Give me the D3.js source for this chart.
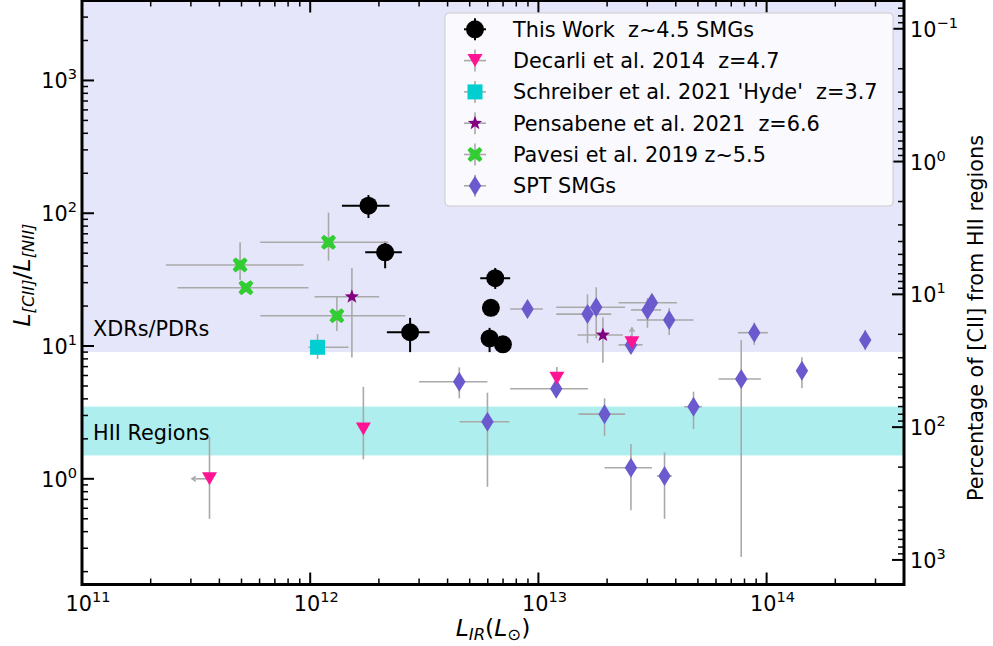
<!DOCTYPE html>
<html>
<head>
<meta charset="utf-8">
<script src="https://cdn.jsdelivr.net/npm/d3@7"></script>
<style>
  body { margin: 0; background: #fff; }
  text { font-family: "DejaVu Sans", sans-serif; white-space: pre; }
</style>
</head>
<body>
<svg id="chart" width="993" height="646"></svg>
<script>
// Each row: [L_IR, L_IR low, L_IR high, ratio, ratio low, ratio high]; null = no error bar
const thisWork = [
  [1.80e12, 1.377e12, 2.226e12, 114, 137, 92],
  [2.13e12, 1.742e12, 2.522e12, 50.8, 61, 38.5],
  [6.47e12, 5.56e12, 7.52e12, 32.4, 38.7, 26.9],
  [6.19e12, null, null, 19.4, null, null],
  [6.11e12, null, null, 11.4, 13.7, 9.0],
  [6.99e12, null, null, 10.3, null, null],
  [2.74e12, 2.168e12, 3.333e12, 12.7, 16.3, 9.0]
];
const decarli = [
  [3.62e11, 3.03e11, null, 1.0, 2.07, 0.50],
  [1.71e12, null, null, 2.37, 4.93, 1.40],
  [1.205e13, null, null, 5.71, 6.95, null],
  [2.57e13, null, null, 10.6, 13.7, null]
];
// Decarli limits: index of upper limit on L_IR, index of lower limit on ratio
const decarliXUpperLimit = [0];
const decarliYLowerLimit = [3];
const schreiber = [
  [1.077e12, 9.83e11, 1.472e12, 9.78, 12.3, 7.98]
];
const pensabene = [
  [1.523e12, 1.044e12, 2.006e12, 23.5, 38.7, 8.2],
  [1.917e13, 1.484e13, 2.346e13, 12.1, 16.5, 7.48]
];
const pavesi = [
  [4.93e11, 2.33e11, 9.35e11, 40.8, 60.5, 31.4],
  [5.23e11, 2.62e11, 9.83e11, 27.5, null, null],
  [1.203e12, 6.04e11, 2.203e12, 60.4, 101, 44],
  [1.309e12, 6.04e11, 2.608e12, 16.9, 23.5, 13.0]
];
const sptSMGs = [
  [4.50e12, 3.00e12, 5.98e12, 5.38, 6.91, 4.04],
  [5.98e12, 4.51e12, 7.47e12, 2.69, 4.45, 0.87],
  [8.96e12, 7.52e12, 1.046e13, 19.0, 20.5, 17.6],
  [1.641e13, 1.197e13, 2.085e13, 17.4, 24.5, 10.5],
  [1.792e13, 1.197e13, 2.40e13, 19.6, 27.7, 11.4],
  [3.006e13, 2.544e13, 3.452e13, 18.7, 23.0, 13.7],
  [3.144e13, 2.244e13, 4.045e13, 21.2, 23.0, 19.5],
  [3.743e13, 2.702e13, 4.783e13, 15.7, 19.3, 12.1],
  [2.544e13, 2.244e13, 2.859e13, 10.2, 10.8, 9.6],
  [8.83e13, 7.49e13, 1.013e14, 12.6, 15.0, 10.2],
  [2.705e14, null, null, 11.1, 13.2, 9.33],
  [1.197e13, 7.52e12, 1.648e13, 4.77, 5.3, 4.3],
  [1.949e13, 1.499e13, 2.40e13, 3.07, 4.04, 2.11],
  [4.783e13, 4.355e13, 5.205e13, 3.49, 4.53, 2.37],
  [7.74e13, 6.155e13, 9.44e13, 5.64, 11.1, 0.258],
  [1.428e14, null, null, 6.51, 8.22, 4.80],
  [2.544e13, 1.949e13, 3.144e13, 1.21, 1.83, 0.58],
  [3.57e13, 3.306e13, 3.846e13, 1.05, 1.58, 0.50]
];
const legendLabels = [
  "This Work  z~4.5 SMGs",
  "Decarli et al. 2014  z=4.7",
  "Schreiber et al. 2021 'Hyde'  z=3.7",
  "Pensabene et al. 2021  z=6.6",
  "Pavesi et al. 2019 z~5.5",
  "SPT SMGs"
];
const xDomain = [1e11, 4e14];
const yDomain = [0.16, 4000];
const pdrRegion = [9, 4000];      // XDR/PDR band in [CII]/[NII]
const hiiRegion = [1.5, 3.5];     // HII region band
const hiiRatio = 2.45;            // ratio of pure ionized gas: 100% [CII] from HII

const svg = d3.select("#chart");
const L = 82, R = 904, T = 0.5, B = 584.5;
const x = d3.scaleLog().domain(xDomain).range([L, R]);
const y = d3.scaleLog().domain(yDomain).range([B, T]);
const yPct = d3.scaleLog()
  .domain([100 * hiiRatio / yDomain[0], 100 * hiiRatio / yDomain[1]])
  .range([B, T]);

// shaded regions
svg.append("rect").attr("x", L).attr("width", R - L)
  .attr("y", y(pdrRegion[1])).attr("height", y(pdrRegion[0]) - y(pdrRegion[1]))
  .attr("fill", "#e6e6fa");
svg.append("rect").attr("x", L).attr("width", R - L)
  .attr("y", y(hiiRegion[1])).attr("height", y(hiiRegion[0]) - y(hiiRegion[1]))
  .attr("fill", "#afeeee");

const fs = 20.8;
const fsTitle = 23.5;
svg.append("text").attr("x", 93).attr("y", 336).attr("font-size", fs).text("XDRs/PDRs");
svg.append("text").attr("x", 93).attr("y", 440).attr("font-size", fs).text("HII Regions");

// marker shapes
function star(ro, ri) {
  let p = "";
  for (let i = 0; i < 10; i++) {
    const r = i % 2 ? ri : ro, a = -Math.PI / 2 + i * Math.PI / 5;
    p += (i ? "L" : "M") + (r * Math.cos(a)).toFixed(2) + "," + (r * Math.sin(a)).toFixed(2);
  }
  return p + "Z";
}
function thickX(h, t) {
  const pts = [[-h + t, -h], [0, -t * 1.414], [h - t, -h], [h, -h + t], [t * 1.414, 0], [h, h - t],
               [h - t, h], [0, t * 1.414], [-h + t, h], [-h, h - t], [-t * 1.414, 0], [-h, -h + t]];
  return "M" + pts.map(p => p.join(",")).join("L") + "Z";
}
const shapes = {
  circle: "M9,0A9,9 0 1,1 -9,0A9,9 0 1,1 9,0Z",
  triDown: "M-7.5,-6.5L7.5,-6.5L0,6.5Z",
  square: "M-7.5,-7.5H7.5V7.5H-7.5Z",
  star: star(7.5, 3.1),
  xmark: thickX(7.5, 2.9),
  diamond: "M0,-10L6.2,0L0,10L-6.2,0Z"
};

const errGray = "#a9a9a9";
const series = [
  { rows: sptSMGs, shape: "diamond", color: "#6a5acd", err: errGray, ew: 1.6 },
  { rows: thisWork, shape: "circle", color: "#000000", err: "#000000", ew: 2 },
  { rows: decarli, shape: "triDown", color: "#ff1493", err: errGray, ew: 1.6 },
  { rows: schreiber, shape: "square", color: "#00ced1", err: errGray, ew: 1.6 },
  { rows: pensabene, shape: "star", color: "#800080", err: errGray, ew: 1.6 },
  { rows: pavesi, shape: "xmark", color: "#32cd32", err: errGray, ew: 1.6 }
];

const plot = svg.append("g");
series.forEach(s => {
  const g = plot.append("g");
  s.rows.forEach(r => {
    const cx = x(r[0]), cy = y(r[3]);
    if (r[1] !== null || r[2] !== null) {
      g.append("line").attr("x1", x(r[1] ?? r[0])).attr("x2", x(r[2] ?? r[0]))
        .attr("y1", cy).attr("y2", cy).attr("stroke", s.err).attr("stroke-width", s.ew);
    }
    if (r[4] !== null || r[5] !== null) {
      g.append("line").attr("x1", cx).attr("x2", cx)
        .attr("y1", y(r[4] ?? r[3])).attr("y2", y(r[5] ?? r[3]))
        .attr("stroke", s.err).attr("stroke-width", s.ew);
    }
  });
  if (s.rows === decarli) {
    decarliXUpperLimit.forEach(i => {
      const r = decarli[i], ax = x(r[1]), cy = y(r[3]);
      g.append("path").attr("d", `M${ax + 4},${cy - 2.5}L${ax},${cy}L${ax + 4},${cy + 2.5}`)
        .attr("fill", "none").attr("stroke", errGray).attr("stroke-width", 1.4);
    });
    decarliYLowerLimit.forEach(i => {
      const r = decarli[i], cx = x(r[0]), ay = y(r[4]);
      g.append("path").attr("d", `M${cx - 2.5},${ay + 4}L${cx},${ay}L${cx + 2.5},${ay + 4}`)
        .attr("fill", "none").attr("stroke", errGray).attr("stroke-width", 1.4);
    });
  }
  s.rows.forEach(r => {
    g.append("path").attr("d", shapes[s.shape])
      .attr("transform", `translate(${x(r[0])},${y(r[3])})`)
      .attr("fill", s.color);
  });
});

// axis ticks (pointing inward on all sides)
const axes = svg.append("g");
function isMajor(v) { return Math.abs(Math.log10(v) - Math.round(Math.log10(v))) < 1e-9; }
x.ticks().forEach(v => {
  const px = x(v), len = isMajor(v) ? 12 : 6, w = isMajor(v) ? 2 : 1.5;
  axes.append("line").attr("x1", px).attr("x2", px).attr("y1", B).attr("y2", B - len)
    .attr("stroke", "#000").attr("stroke-width", w);
  axes.append("line").attr("x1", px).attr("x2", px).attr("y1", T).attr("y2", T + len)
    .attr("stroke", "#000").attr("stroke-width", w);
});
y.ticks().forEach(v => {
  const py = y(v), len = isMajor(v) ? 12 : 6, w = isMajor(v) ? 2 : 1.5;
  axes.append("line").attr("x1", L).attr("x2", L + len).attr("y1", py).attr("y2", py)
    .attr("stroke", "#000").attr("stroke-width", w);
});
yPct.ticks().forEach(v => {
  const py = yPct(v), len = isMajor(v) ? 12 : 6, w = isMajor(v) ? 2 : 1.5;
  axes.append("line").attr("x1", R).attr("x2", R - len).attr("y1", py).attr("y2", py)
    .attr("stroke", "#000").attr("stroke-width", w);
});

function powerLabel(g, px, py, exp, anchor) {
  const t = g.append("text").attr("x", px).attr("y", py).attr("font-size", fs)
    .attr("text-anchor", anchor);
  t.append("tspan").text("10");
  t.append("tspan").attr("dy", -9).attr("font-size", fs * 0.7)
    .text(exp < 0 ? "\u2212" + (-exp) : String(exp));
}
x.ticks().filter(isMajor).forEach(v => {
  powerLabel(axes, x(v) + 6, 611, Math.round(Math.log10(v)), "middle");
});
y.ticks().filter(isMajor).forEach(v => {
  powerLabel(axes, 77, y(v) + 8, Math.round(Math.log10(v)), "end");
});
yPct.ticks().filter(isMajor).forEach(v => {
  powerLabel(axes, 910, yPct(v) + 8, Math.round(Math.log10(v)), "start");
});

// axis titles
const xt = svg.append("text").attr("x", 493).attr("y", 636).attr("font-size", fsTitle)
  .attr("text-anchor", "middle");
xt.append("tspan").attr("font-style", "italic").text("L");
xt.append("tspan").attr("font-style", "italic").attr("font-size", fsTitle * 0.7).attr("dy", 4).text("IR");
xt.append("tspan").attr("dy", -4).text("(");
xt.append("tspan").attr("font-style", "italic").text("L");
xt.append("tspan").attr("font-size", fsTitle * 0.7).attr("dy", 4).text("\u2299");
xt.append("tspan").attr("dy", -4).text(")");

const yt = svg.append("text").attr("transform", "translate(30,275) rotate(-90)")
  .attr("font-size", fsTitle).attr("text-anchor", "middle");
yt.append("tspan").attr("font-style", "italic").text("L");
yt.append("tspan").attr("font-style", "italic").attr("font-size", fsTitle * 0.7).attr("dy", 4).text("[CII]");
yt.append("tspan").attr("dy", -4).text("/");
yt.append("tspan").attr("font-style", "italic").text("L");
yt.append("tspan").attr("font-style", "italic").attr("font-size", fsTitle * 0.7).attr("dy", 4).text("[NII]");

svg.append("text").attr("transform", "translate(983,318) rotate(-90)")
  .attr("font-size", fs).attr("text-anchor", "middle")
  .text("Percentage of [CII] from HII regions");

// frame
svg.append("rect").attr("x", L).attr("y", T).attr("width", R - L).attr("height", B - T)
  .attr("fill", "none").attr("stroke", "#000").attr("stroke-width", 3);

// legend
const lg = svg.append("g");
lg.append("rect").attr("x", 445).attr("y", 13).attr("width", 448).attr("height", 193)
  .attr("rx", 4).attr("fill", "#ffffff").attr("fill-opacity", 0.8)
  .attr("stroke", "#cccccc").attr("stroke-width", 1);
const legendOrder = [1, 2, 3, 4, 5, 0];
legendOrder.forEach((si, i) => {
  const s = series[si], cy = 29.3 + i * 31.3, cx = 475;
  lg.append("line").attr("x1", cx - 11).attr("x2", cx + 11).attr("y1", cy).attr("y2", cy)
    .attr("stroke", s.err).attr("stroke-width", s.ew);
  lg.append("line").attr("x1", cx).attr("x2", cx).attr("y1", cy - 11).attr("y2", cy + 11)
    .attr("stroke", s.err).attr("stroke-width", s.ew);
  lg.append("path").attr("d", shapes[s.shape]).attr("transform", `translate(${cx},${cy})`)
    .attr("fill", s.color);
  lg.append("text").attr("x", 513).attr("y", cy + 7.5).attr("font-size", fs).text(legendLabels[i]);
});
</script>
</body>
</html>
